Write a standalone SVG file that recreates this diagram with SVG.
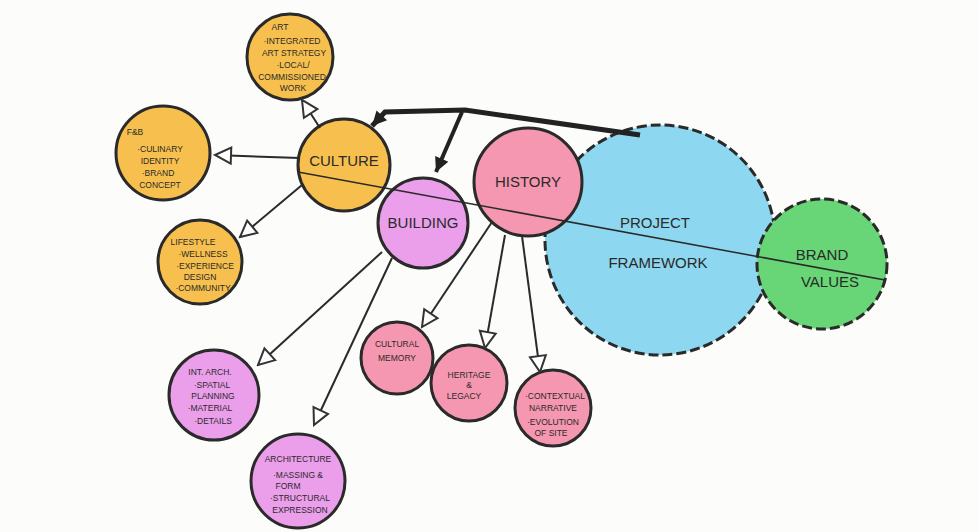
<svg xmlns="http://www.w3.org/2000/svg" width="979" height="532" viewBox="0 0 979 532">
<defs>
<marker id="tri" viewBox="0 0 20 20" refX="18" refY="10" markerWidth="20" markerHeight="20" markerUnits="userSpaceOnUse" orient="auto"><path d="M2,2 L18,10 L2,18 Z" fill="#fff" stroke="#333" stroke-width="2"/></marker>
<marker id="solid" viewBox="0 0 20 20" refX="18" refY="10" markerWidth="18" markerHeight="18" markerUnits="userSpaceOnUse" orient="auto"><path d="M2,2 L18,10 L2,18 Z" fill="#222"/></marker>
</defs>
<style>
.n{stroke:#2a2a2a;stroke-width:3}
.d{stroke:#2a2a2a;stroke-width:3;stroke-dasharray:10 4}
.or{fill:#f7c04e}.mg{fill:#eb9eea}.pk{fill:#f597b0}.bl{fill:#8ed7f0}.gr{fill:#68d676}
text{font-family:"Liberation Sans",Arial,sans-serif;fill:#2a2a2a;text-anchor:middle}
.t{font-size:15px}.s{font-size:8.5px}
.c{fill:none;stroke:#2a2a2a;stroke-width:2}
</style>
<rect width="979" height="532" fill="#fcfcfb"/>
<g id="project"><circle cx="660" cy="240" r="115" class="bl d"/><text x="655" y="228" class="t">PROJECT</text><text x="658" y="268" class="t">FRAMEWORK</text></g>
<g id="brand"><circle cx="822" cy="264" r="65" class="gr d"/><text x="822" y="260" class="t">BRAND</text><text x="830" y="287" class="t">VALUES</text></g>
<g id="art"><circle cx="290" cy="57" r="43" class="or n"/><text x="280" y="30" class="s">ART</text><text x="292" y="44" class="s">·INTEGRATED</text><text x="294" y="56" class="s">ART STRATEGY</text><text x="293" y="68" class="s">·LOCAL/</text><text x="292" y="80" class="s">COMMISSIONED</text><text x="293" y="91" class="s">WORK</text></g>
<g id="fb"><circle cx="163" cy="153" r="47" class="or n"/><text x="135" y="135" class="s">F&amp;B</text><text x="160" y="152" class="s">·CULINARY</text><text x="160" y="164" class="s">IDENTITY</text><text x="158" y="176" class="s">·BRAND</text><text x="160" y="188" class="s">CONCEPT</text></g>
<g id="culture"><circle cx="344" cy="165" r="46" class="or n"/><text x="344" y="166" class="t">CULTURE</text></g>
<g id="lifestyle"><circle cx="200" cy="262" r="42" class="or n"/><text x="193" y="245" class="s">LIFESTYLE</text><text x="203" y="257" class="s">·WELLNESS</text><text x="205" y="269" class="s">·EXPERIENCE</text><text x="200" y="280" class="s">DESIGN</text><text x="203" y="291" class="s">·COMMUNITY</text></g>
<g id="building"><circle cx="423" cy="223" r="45" class="mg n"/><text x="423" y="228" class="t">BUILDING</text></g>
<g id="history"><circle cx="528" cy="182" r="54" class="pk n"/><text x="528" y="187" class="t">HISTORY</text></g>
<g id="intarch"><circle cx="214" cy="395" r="45" class="mg n"/><text x="210" y="375" class="s">INT. ARCH.</text><text x="212" y="388" class="s">·SPATIAL</text><text x="213" y="399" class="s">PLANNING</text><text x="210" y="411" class="s">·MATERIAL</text><text x="213" y="424" class="s">·DETAILS</text></g>
<g id="architecture"><circle cx="298" cy="481" r="47" class="mg n"/><text x="298" y="462" class="s">ARCHITECTURE</text><text x="298" y="478" class="s">·MASSING &amp;</text><text x="288" y="489" class="s">FORM</text><text x="300" y="501" class="s">·STRUCTURAL</text><text x="300" y="513" class="s">EXPRESSION</text></g>
<g id="memory"><circle cx="397" cy="358" r="36" class="pk n"/><text x="397" y="347" class="s">CULTURAL</text><text x="397" y="361" class="s">MEMORY</text></g>
<g id="heritage"><circle cx="469" cy="383" r="38" class="pk n"/><text x="469" y="378" class="s">HERITAGE</text><text x="469" y="388" class="s">&amp;</text><text x="464" y="399" class="s">LEGACY</text></g>
<g id="contextual"><circle cx="553" cy="408" r="38" class="pk n"/><text x="555" y="399" class="s">·CONTEXTUAL</text><text x="553" y="411" class="s">NARRATIVE</text><text x="553" y="425" class="s">·EVOLUTION</text><text x="551" y="436" class="s">OF SITE</text></g>
<g id="connectors">
<path class="c" d="M320,128 L302,100" marker-end="url(#tri)"/>
<path class="c" d="M300,158 L215,155" marker-end="url(#tri)"/>
<path class="c" d="M302,185 L240,237" marker-end="url(#tri)"/>
<path class="c" d="M382,252 L258,365" marker-end="url(#tri)"/>
<path class="c" d="M392,258 L314,425" marker-end="url(#tri)"/>
<path class="c" d="M492,222 L422,327" marker-end="url(#tri)"/>
<path class="c" d="M505,235 L485,348" marker-end="url(#tri)"/>
<path class="c" d="M522,236 L540,372" marker-end="url(#tri)"/>
<path d="M298,172 L885,280" fill="none" stroke="#2a2a2a" stroke-width="1.5"/>
<path d="M640,135 L465,110 L385,112 L372,126" fill="none" stroke="#222" stroke-width="5" marker-end="url(#solid)"/>
<path d="M462,112 L436,172" fill="none" stroke="#222" stroke-width="4" marker-end="url(#solid)"/>
</g>
</svg>
